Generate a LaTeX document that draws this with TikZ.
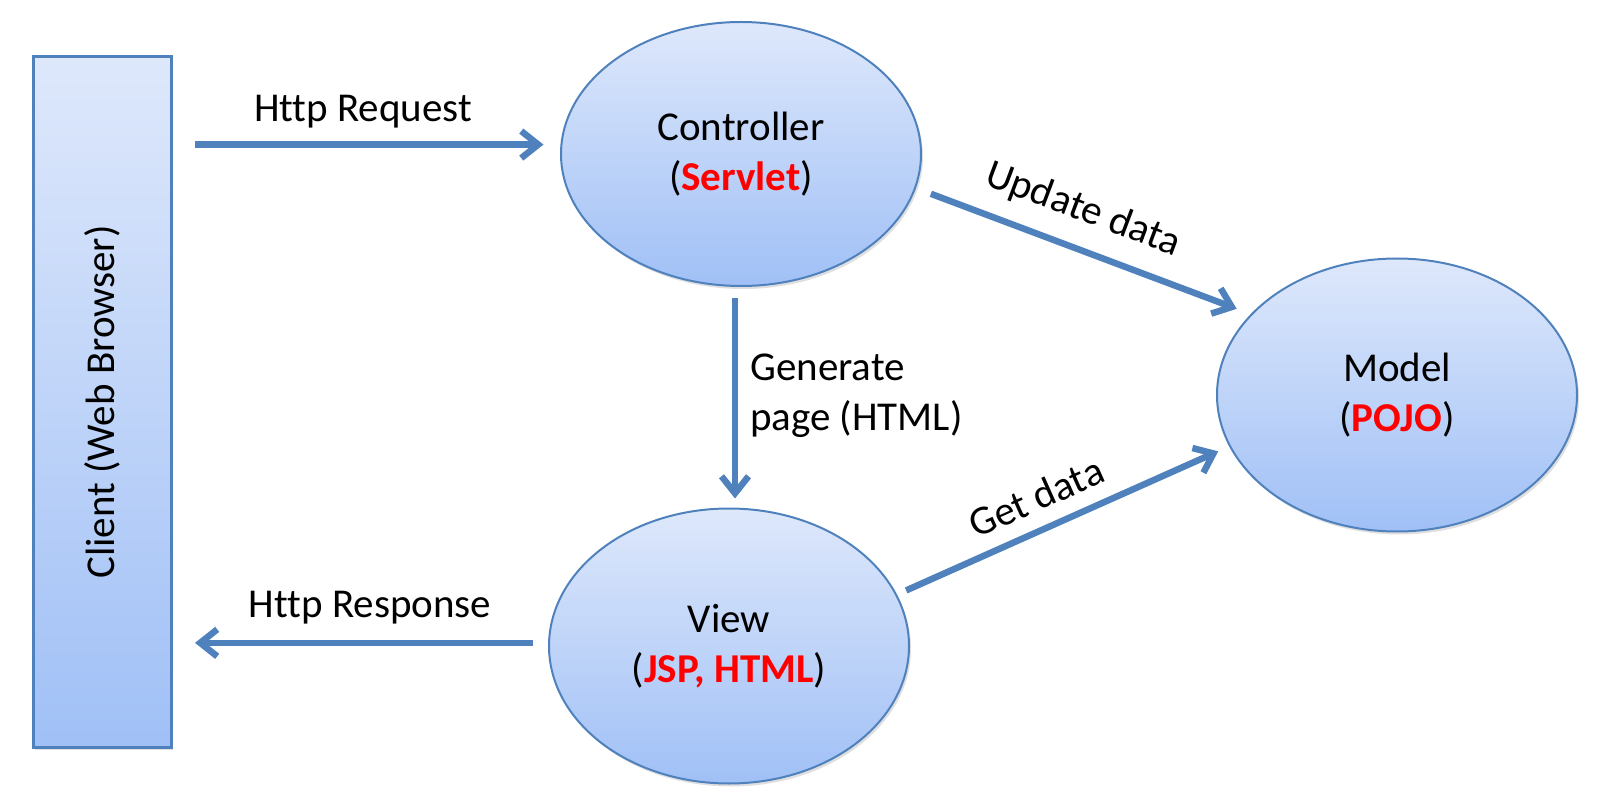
\documentclass[tikz,border=0pt]{standalone}
\usepackage{fontspec}
\setmainfont[Ligatures=NoCommon]{Carlito}
\usetikzlibrary{arrows.meta,shapes.geometric,shadows,calc}
\definecolor{bord}{RGB}{79,129,189}
\definecolor{arrc}{RGB}{79,129,189}
\definecolor{fillTop}{RGB}{222,232,251}
\definecolor{fillBot}{RGB}{160,192,246}
\definecolor{hl}{RGB}{255,0,0}
\tikzset{
  softshadow/.style={drop shadow={shadow xshift=2pt, shadow yshift=-3pt, opacity=0.18, fill=black!70}},
  box/.style={rectangle, draw=bord, line width=3pt, top color=fillTop, bottom color=fillBot,
    minimum width=138pt, minimum height=690pt, inner sep=0pt, outer sep=0pt, softshadow},
  oval/.style={ellipse, draw=bord, line width=2pt, top color=fillTop, bottom color=fillBot,
    inner sep=0pt, outer sep=0pt, align=center, softshadow},
  arr/.style={draw=arrc, line width=6.5pt, -{Straight Barb[length=17pt,width=27pt]}},
  lbl/.style={inner sep=0pt, font=\fontsize{41}{50}\selectfont}
}
\begin{document}
\begin{tikzpicture}[x=1pt,y=-1pt,font=\fontsize{41}{50}\selectfont]
\useasboundingbox (0,0) rectangle (1612,799);

\node[box, label={[lbl, rotate=90]center:Client (Web Browser)}] (client) at (102,402) {};

\node[oval, minimum width=360pt, minimum height=264pt] (ctrl) at (741,154)
  {Controller\\(\textcolor{hl}{\textbf{Servlet}})};
\node[oval, minimum width=360pt, minimum height=273pt] (model) at (1397,395)
  {Model\\(\textcolor{hl}{\textbf{POJO}})};
\node[oval, minimum width=360pt, minimum height=275pt] (view) at (729,646)
  {View\\(\textcolor{hl}{\textbf{JSP, HTML}})};

\coordinate (gm) at ($(ctrl.south)!0.5!(view.north)$);

\draw[arr, shorten <=24pt, shorten >=18pt] (client.east |- ctrl.177) -- (ctrl.177);
\draw[arr, shorten <=16pt, shorten >=24pt] (view.179) -- (client.east |- view.179);
\draw[arr, shorten <=12pt, shorten >=10pt] (ctrl.south -| gm) -- (view.north -| gm);
\draw[arr, shorten <=17pt, shorten >=16pt] (ctrl.349) -- (model.151);
\draw[arr, shorten <=11pt, shorten >=13pt] (view.17) -- (model.197);

\node[lbl, anchor=base] (lreq) at (363,122) {Http Request};
\node[lbl, anchor=base] (lres) at (370,617) {Http Response};
\node[lbl, anchor=west, align=left] (lgen) at (750,396) {Generate\\page (HTML)};
\node[lbl, rotate=-20.6] (lupd) at (1083,210) {Update data};
\node[lbl, rotate=24] (lget) at (1036,497) {Get data};
\end{tikzpicture}
\end{document}
